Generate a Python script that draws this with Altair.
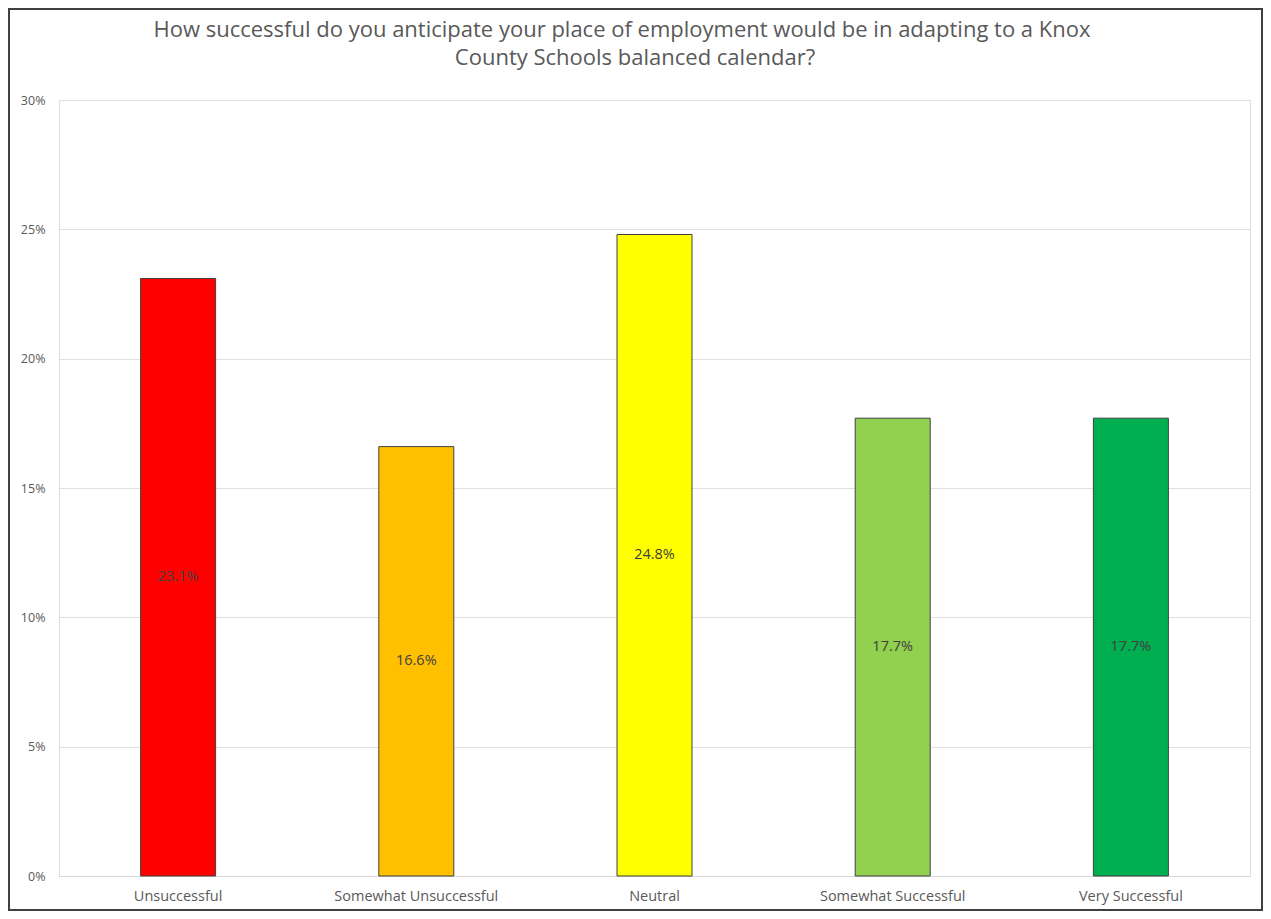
import altair as alt
import pandas as pd

categories = ["Unsuccessful", "Somewhat Unsuccessful", "Neutral", "Somewhat Successful", "Very Successful"]
values = [0.231, 0.166, 0.248, 0.177, 0.177]
labels = ["23.1%", "16.6%", "24.8%", "17.7%", "17.7%"]
colors = ["#FF0000", "#FFC000", "#FFFF00", "#92D050", "#00B050"]
title_lines = ["How successful do you anticipate your place of employment would be in adapting to a Knox",
               "County Schools balanced calendar?"]

df = pd.DataFrame({"cat": categories, "val": values, "lab": labels, "col": colors})
df["mid"] = df["val"] / 2

FONT = "Open Sans"
W, H = 1191, 776
PL, PT, PR, PB = 51, 92, 13, 35

x = alt.X("cat:N", sort=categories, title=None,
          axis=alt.Axis(labelAngle=0, labelColor="#595959", labelFont=FONT, labelFontSize=14.5,
                        ticks=False, domainColor="#d9d9d9", labelPadding=13))
y = alt.Y("val:Q", title=None, scale=alt.Scale(domain=[0, 0.30]),
          axis=alt.Axis(format=".0%", values=[0, 0.05, 0.10, 0.15, 0.20, 0.25, 0.30],
                        labelColor="#595959", labelFont=FONT, labelFontSize=12.5,
                        ticks=False, domain=False, gridColor="#e0e0e0", labelPadding=14))

bars = alt.Chart(df).mark_bar(size=75, stroke="#404040", strokeWidth=1).encode(
    x=x, y=y, color=alt.Color("col:N", scale=None)
)

text = alt.Chart(df).mark_text(font=FONT, fontSize=14.5, color="#404040").encode(
    x=alt.X("cat:N", sort=categories), y=alt.Y("mid:Q"), text="lab:N"
)

one = df.head(1)
title1 = alt.Chart(one).mark_text(font=FONT, fontSize=22, color="#595959", align="center",
                                  baseline="middle", text=title_lines[0]).encode(
    x=alt.value(563), y=alt.value(-70)
)
title2 = alt.Chart(one).mark_text(font=FONT, fontSize=22, color="#595959", align="center",
                                  baseline="middle", text=title_lines[1]).encode(
    x=alt.value(576), y=alt.value(-42)
)

border = alt.Chart(one).mark_rect(fill=None, stroke="#404040", strokeWidth=2).encode(
    x=alt.value(-PL + 1), x2=alt.value(W + PR - 1),
    y=alt.value(-PT + 1), y2=alt.value(H + PB - 1)
)

chart = alt.layer(bars, text, title1, title2, border).properties(
    width=W, height=H,
    padding={"left": PL, "top": PT, "right": PR, "bottom": PB},
    autosize=alt.AutoSizeParams(type="none"),
).configure_view(stroke="#8c8c8c", strokeWidth=1.5).configure(background="white")

chart.save("out.html", embed_options={"renderer": "svg", "actions": False})
